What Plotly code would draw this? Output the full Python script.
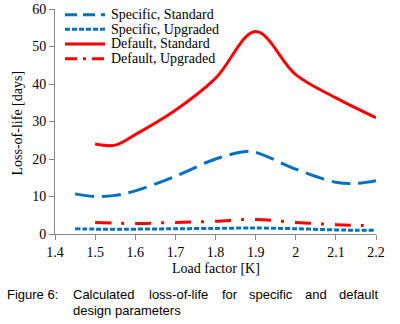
import plotly.graph_objects as go

# ---- data ----
x_spec = [1.45, 1.5, 1.55, 1.6, 1.7, 1.8, 1.875, 1.9, 2.0, 2.1, 2.15, 2.2]
spec_standard = [10.7, 10.0, 10.3, 11.5, 15.4, 20.0, 22.0, 21.8, 17.3, 13.8, 13.5, 14.2]
spec_upgraded = [1.4, 1.3, 1.3, 1.3, 1.4, 1.5, 1.6, 1.6, 1.4, 1.1, 1.0, 1.0]

x_def = [1.5, 1.55, 1.6, 1.7, 1.8, 1.9, 2.0, 2.1, 2.2]
def_standard = [24.0, 23.7, 26.5, 33.0, 41.5, 54.0, 42.5, 36.3, 31.0]
x_def_up = [1.5, 1.55, 1.6, 1.7, 1.8, 1.9, 2.0, 2.1, 2.19]
def_upgraded = [3.1, 2.9, 2.8, 3.1, 3.4, 3.9, 3.1, 2.5, 2.2]

x_ticks = [1.4, 1.5, 1.6, 1.7, 1.8, 1.9, 2.0, 2.1, 2.2]
y_ticks = [0, 10, 20, 30, 40, 50, 60]

series_names = ["Specific, Standard", "Specific, Upgraded", "Default, Standard", "Default, Upgraded"]

BLUE = "#0070C0"
RED = "#FF0000"
SERIF = "Liberation Serif"
SANS = "Liberation Sans"

styles = [dict(color=BLUE, width=3, dash="19px,8px"),
          dict(color=BLUE, width=3, dash="5px,2px"),
          dict(color=RED, width=3, dash="solid"),
          dict(color=RED, width=3, dash="16px,10px,3px,11px")]

W, H = 400, 324
ML, MR, MT, MB = 55, 24, 9, 90
PW, PH = W - ML - MR, H - MT - MB

def px_x(p):
    return (p - ML) / PW

def px_y(p):
    return (H - MB - p) / PH

fig = go.Figure()
for xs, ys, name, st in [(x_spec, spec_standard, series_names[0], styles[0]),
                         (x_spec, spec_upgraded, series_names[1], styles[1]),
                         (x_def, def_standard, series_names[2], styles[2]),
                         (x_def_up, def_upgraded, series_names[3], styles[3])]:
    fig.add_trace(go.Scatter(x=xs, y=ys, mode="lines", name=name, showlegend=False,
                             line=dict(shape="spline", **st)))

axis_common = dict(showgrid=False, zeroline=False, showline=True, linecolor="#868686",
                   linewidth=1, ticks="outside", ticklen=5, tickcolor="#868686",
                   automargin=False,
                   tickfont=dict(family=SERIF, size=14, color="black"))

fig.update_xaxes(range=[1.4, 2.2], tickvals=x_ticks, **axis_common)
fig.update_yaxes(range=[0, 60], tickvals=y_ticks, **axis_common)

# axis titles
fig.add_annotation(text="Load factor [K]", xref="paper", yref="paper", x=px_x(216), y=px_y(268.5),
                   xanchor="center", yanchor="middle", showarrow=False,
                   font=dict(family=SERIF, size=14, color="black"))
fig.add_annotation(text="Loss-of-life [days]", xref="paper", yref="paper", x=px_x(17), y=px_y(123.5),
                   xanchor="center", yanchor="middle", showarrow=False, textangle=-90,
                   font=dict(family=SERIF, size=14, color="black"))

# custom legend (top-left inside plot)
legend_dash = ["12px,6px", "5px,2px", "solid", "12px,6px,3px,6px"]
row_y = [14.7, 29.3, 43.9, 58.8]
for name, st, ld, ry in zip(series_names, styles, legend_dash, row_y):
    fig.add_shape(type="line", xref="paper", yref="paper",
                  x0=px_x(65), x1=px_x(105), y0=px_y(ry), y1=px_y(ry),
                  line=dict(color=st["color"], width=st["width"], dash=ld))
    fig.add_annotation(text=name, xref="paper", yref="paper", x=px_x(108.5), y=px_y(ry),
                       xanchor="left", yanchor="middle", showarrow=False,
                       font=dict(family=SERIF, size=14, color="black"))

# caption (justified first line placed word by word)
cap_words = [("Figure 6:", 5), ("Calculated", 71), ("loss-of-life", 146.7), ("for", 220),
             ("specific", 246.7), ("and", 303.3), ("default", 336.7)]
for txt, xp in cap_words:
    fig.add_annotation(text=txt, xref="paper", yref="paper", x=px_x(xp), y=px_y(294.5),
                       xanchor="left", yanchor="middle", showarrow=False,
                       font=dict(family=SANS, size=13, color="black"))
fig.add_annotation(text="design parameters", xref="paper", yref="paper", x=px_x(71), y=px_y(310.5),
                   xanchor="left", yanchor="middle", showarrow=False,
                   font=dict(family=SANS, size=13, color="black"))

fig.update_layout(
    width=W, height=H,
    margin=dict(l=ML, r=MR, t=MT, b=MB),
    paper_bgcolor="white", plot_bgcolor="white",
    showlegend=False,
)

fig.write_html("out.html", config={"displayModeBar": False},
               post_script="document.body.style.margin='0';document.body.style.padding='0';")
